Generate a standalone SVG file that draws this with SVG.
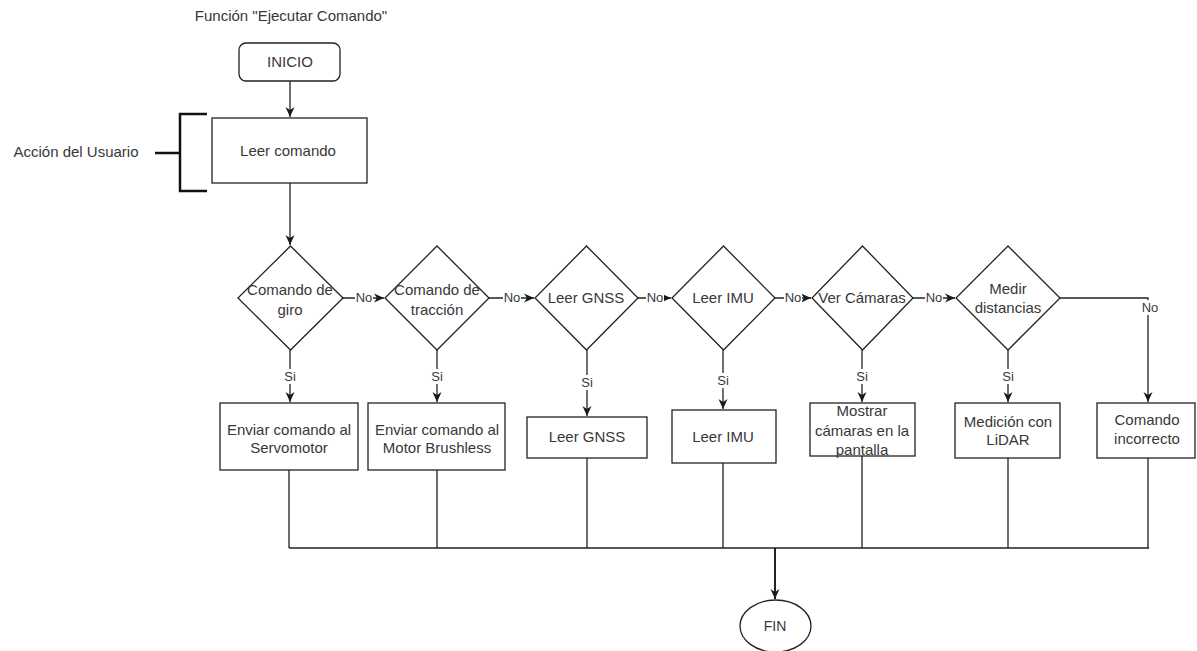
<svg xmlns="http://www.w3.org/2000/svg" width="1197" height="651" viewBox="0 0 1197 651">
  <style>
    text { font-family: "Liberation Sans", Arial, sans-serif; font-size: 15px; fill: #383838; text-anchor: middle; }
    .lbl { font-size: 13px; }
    .shape { fill: #ffffff; stroke: #222222; stroke-width: 1.3; }
    .edge { fill: none; stroke: #222222; stroke-width: 1.3; }
    .bold { fill: none; stroke: #222222; stroke-width: 2; }
    .bracket { fill: none; stroke: #111111; stroke-width: 2.5; }
    .mask { fill: #ffffff; }
  </style>
  <defs>
    <!-- classic filled arrowhead with a notched back -->
    <marker id="arrow" markerUnits="userSpaceOnUse" markerWidth="12" markerHeight="12" refX="10" refY="6" orient="auto">
      <path d="M0,1.5 L10,6 L0,10.5 L3,6 z" fill="#1a1a1a"/>
    </marker>
  </defs>
  <rect width="1197" height="651" fill="#ffffff"/>

  <!-- title and annotation -->
  <text x="291" y="21">Función "Ejecutar Comando"</text>
  <g id="annotation">
    <path class="bracket" d="M207,114 H180 V191 H207"/>
    <path class="bracket" d="M155,153 H180"/>
    <text x="76" y="157">Acción del Usuario</text>
  </g>

  <!-- connectors -->
  <g id="connectors">
    <path class="edge" d="M290,81 V117" marker-end="url(#arrow)"/>
    <path class="edge" d="M290,183 V245" marker-end="url(#arrow)"/>

    <!-- No branches -->
    <path class="edge" d="M343,298 H384" marker-end="url(#arrow)"/>
    <path class="edge" d="M489,298 H534" marker-end="url(#arrow)"/>
    <path class="edge" d="M638,298 H671" marker-end="url(#arrow)"/>
    <path class="edge" d="M775,298 H811" marker-end="url(#arrow)"/>
    <path class="edge" d="M913,298 H955" marker-end="url(#arrow)"/>
    <path class="edge" d="M1060,298 H1148 V402" marker-end="url(#arrow)"/>

    <!-- Si branches -->
    <path class="edge" d="M290,350 V402" marker-end="url(#arrow)"/>
    <path class="edge" d="M437,350 V402" marker-end="url(#arrow)"/>
    <path class="edge" d="M587,350 V416" marker-end="url(#arrow)"/>
    <path class="edge" d="M723,350 V409" marker-end="url(#arrow)"/>
    <path class="edge" d="M862,350 V402" marker-end="url(#arrow)"/>
    <path class="edge" d="M1008,350 V402" marker-end="url(#arrow)"/>

    <!-- merge to FIN -->
    <path class="edge" d="M289,470 V548 M437,470 V548 M587,458 V548 M723,463 V548 M862,456 V548 M1008,458 V548 M1148,458 V548 M289,548 H1149"/>
    <path class="bold" d="M775,548 V599" marker-end="url(#arrow)"/>

    <!-- edge labels -->
    <rect class="mask" x="355" y="290" width="18" height="15"/>
    <text class="lbl" x="364" y="302">No</text>
    <rect class="mask" x="503" y="290" width="18" height="15"/>
    <text class="lbl" x="512" y="302">No</text>
    <rect class="mask" x="646" y="290" width="18" height="15"/>
    <text class="lbl" x="655" y="302">No</text>
    <rect class="mask" x="784" y="290" width="18" height="15"/>
    <text class="lbl" x="793" y="302">No</text>
    <rect class="mask" x="925" y="290" width="18" height="15"/>
    <text class="lbl" x="934" y="302">No</text>
    <rect class="mask" x="1140" y="300" width="18" height="15"/>
    <text class="lbl" x="1150" y="312">No</text>

    <rect class="mask" x="283" y="369" width="13" height="15"/>
    <text class="lbl" x="290" y="381">Si</text>
    <rect class="mask" x="430" y="369" width="13" height="15"/>
    <text class="lbl" x="437" y="381">Si</text>
    <rect class="mask" x="580" y="375" width="13" height="15"/>
    <text class="lbl" x="587" y="387">Si</text>
    <rect class="mask" x="716" y="373" width="13" height="15"/>
    <text class="lbl" x="723" y="385">Si</text>
    <rect class="mask" x="855" y="369" width="13" height="15"/>
    <text class="lbl" x="862" y="381">Si</text>
    <rect class="mask" x="1001" y="369" width="13" height="15"/>
    <text class="lbl" x="1008" y="381">Si</text>
  </g>

  <!-- start / read -->
  <g id="inicio">
    <rect class="shape" x="239" y="43" width="101" height="38" rx="7"/>
    <text x="290" y="67">INICIO</text>
  </g>
  <g id="leer-comando">
    <rect class="shape" x="212" y="118" width="155" height="65"/>
    <text x="288" y="156">Leer comando</text>
  </g>

  <!-- decisions -->
  <g id="d-giro">
    <path class="shape" d="M290.5,246 L343,298 L290.5,350 L238,298 z"/>
    <text x="290" y="295">Comando de</text>
    <text x="290" y="315">giro</text>
  </g>
  <g id="d-traccion">
    <path class="shape" d="M437,246 L489,298 L437,350 L385,298 z"/>
    <text x="437" y="295">Comando de</text>
    <text x="437" y="315">tracción</text>
  </g>
  <g id="d-gnss">
    <path class="shape" d="M586.5,246 L638,298 L586.5,350 L535,298 z"/>
    <text x="586" y="303">Leer GNSS</text>
  </g>
  <g id="d-imu">
    <path class="shape" d="M723.5,246 L775,298 L723.5,350 L672,298 z"/>
    <text x="723" y="303">Leer IMU</text>
  </g>
  <g id="d-camaras">
    <path class="shape" d="M862.5,246 L913,298 L862.5,350 L812,298 z"/>
    <text x="862" y="303">Ver Cámaras</text>
  </g>
  <g id="d-distancias">
    <path class="shape" d="M1008,246 L1060,298 L1008,350 L956,298 z"/>
    <text x="1008" y="294">Medir</text>
    <text x="1008" y="313">distancias</text>
  </g>

  <!-- actions -->
  <g id="a-servo">
    <rect class="shape" x="220" y="403" width="138" height="67"/>
    <text x="289" y="435">Enviar comando al</text>
    <text x="289" y="453">Servomotor</text>
  </g>
  <g id="a-brushless">
    <rect class="shape" x="368" y="403" width="137" height="67"/>
    <text x="437" y="435">Enviar comando al</text>
    <text x="437" y="453">Motor Brushless</text>
  </g>
  <g id="a-gnss">
    <rect class="shape" x="527" y="417" width="120" height="41"/>
    <text x="587" y="442">Leer GNSS</text>
  </g>
  <g id="a-imu">
    <rect class="shape" x="672" y="410" width="104" height="53"/>
    <text x="723" y="442">Leer IMU</text>
  </g>
  <g id="a-camaras">
    <rect class="shape" x="810" y="403" width="105" height="53"/>
    <text x="862" y="416">Mostrar</text>
    <text x="862" y="436">cámaras en la</text>
    <text x="862" y="455">pantalla</text>
  </g>
  <g id="a-lidar">
    <rect class="shape" x="955" y="403" width="105" height="55"/>
    <text x="1008" y="427">Medición con</text>
    <text x="1008" y="445">LiDAR</text>
  </g>
  <g id="a-incorrecto">
    <rect class="shape" x="1097" y="403" width="98" height="55"/>
    <text x="1147" y="425">Comando</text>
    <text x="1147" y="444">incorrecto</text>
  </g>

  <!-- end -->
  <g id="fin">
    <ellipse class="shape" cx="775.5" cy="626" rx="35.5" ry="26"/>
    <text x="775" y="631" style="font-size:14px">FIN</text>
  </g>
</svg>
